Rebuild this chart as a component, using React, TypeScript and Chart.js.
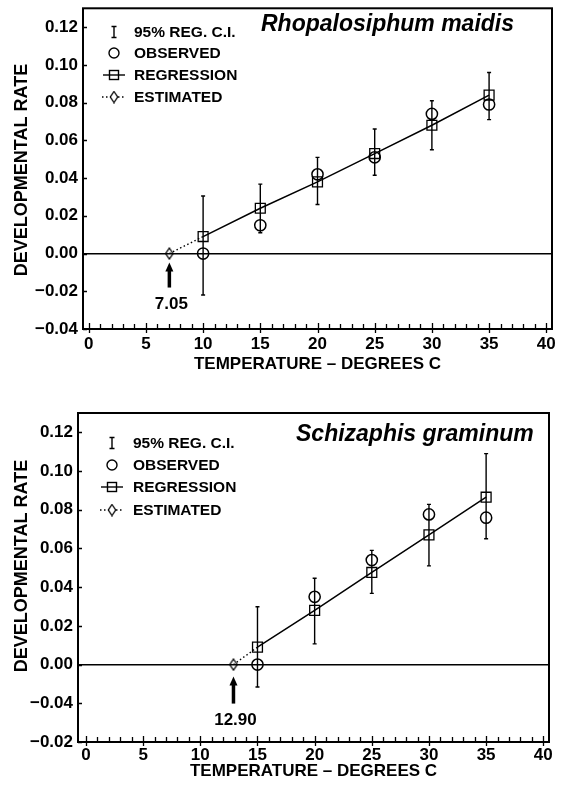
import React, { useEffect, useRef } from 'react';
import { Chart, registerables } from 'chart.js';

Chart.register(...registerables);

// ---------- data ----------
const TEMPS_A = [10, 15, 20, 25, 30, 35];
const OBS_A = [0.0, 0.015, 0.042, 0.051, 0.074, 0.079];
const REG_A = [0.009, 0.024, 0.038, 0.053, 0.068, 0.084];
const CI_LO_A = [-0.022, 0.011, 0.026, 0.0415, 0.055, 0.071];
const CI_HI_A = [0.0305, 0.0368, 0.051, 0.066, 0.081, 0.096];
const THRESH_A = 7.05;
const THRESH_LABEL_A = '7.05';
const SPECIES_A = 'Rhopalosiphum maidis';

const TEMPS_B = [15, 20, 25, 30, 35];
const OBS_B = [0.0, 0.035, 0.054, 0.0776, 0.0759];
const REG_B = [0.009, 0.028, 0.0476, 0.067, 0.0865];
const CI_LO_B = [-0.0116, 0.0107, 0.0368, 0.051, 0.065];
const CI_HI_B = [0.0299, 0.0446, 0.059, 0.0828, 0.109];
const THRESH_B = 12.9;
const THRESH_LABEL_B = '12.90';
const SPECIES_B = 'Schizaphis graminum';

const X_TICKS = [0, 5, 10, 15, 20, 25, 30, 35, 40];
const Y_TICKS = [-0.04, -0.02, 0, 0.02, 0.04, 0.06, 0.08, 0.1, 0.12];
const Y_LABELS_A = ['\u22120.04', '\u22120.02', '0.00', '0.02', '0.04', '0.06', '0.08', '0.10', '0.12'];
const Y_LABELS_B = ['\u22120.02', '\u22120.04', '0.00', '0.02', '0.04', '0.06', '0.08', '0.10', '0.12'];
const LEGEND_LABELS = ['95% REG. C.I.', 'OBSERVED', 'REGRESSION', 'ESTIMATED'];
const X_TITLE = 'TEMPERATURE \u2013 DEGREES C';
const Y_TITLE = 'DEVELOPMENTAL RATE';

const FONT = '"Liberation Sans", Arial, sans-serif';

function makeDiamond(fill: string) {
  const c = document.createElement('canvas');
  c.width = 10;
  c.height = 13;
  const g = c.getContext('2d')!;
  g.beginPath();
  g.moveTo(5, 1);
  g.lineTo(8.7, 6.5);
  g.lineTo(5, 12);
  g.lineTo(1.3, 6.5);
  g.closePath();
  if (fill) {
    g.fillStyle = fill;
    g.fill();
  }
  g.strokeStyle = '#000';
  g.lineWidth = 1.3;
  g.stroke();
  return c;
}

function makePlugin(cfg: any) {
  return {
    id: 'decor',
    beforeDatasetsDraw(chart: any) {
      const { ctx, scales } = chart;
      const x = scales.x;
      const y = scales.y;
      ctx.save();
      ctx.strokeStyle = '#000';
      ctx.lineWidth = 1.4;
      cfg.temps.forEach((t: number, i: number) => {
        const px = x.getPixelForValue(t);
        const y1 = y.getPixelForValue(cfg.ciLo[i]);
        const y2 = y.getPixelForValue(cfg.ciHi[i]);
        ctx.beginPath();
        ctx.moveTo(px, y1);
        ctx.lineTo(px, y2);
        ctx.moveTo(px - 2, y1);
        ctx.lineTo(px + 2, y1);
        ctx.moveTo(px - 2, y2);
        ctx.lineTo(px + 2, y2);
        ctx.stroke();
      });
      ctx.restore();
    },
    afterDraw(chart: any) {
      const { ctx, chartArea: a, scales } = chart;
      const x = scales.x;
      const y = scales.y;
      ctx.save();
      ctx.strokeStyle = '#000';
      ctx.fillStyle = '#000';
      // frame
      ctx.lineWidth = 2;
      ctx.strokeRect(a.left, a.top, a.right - a.left, a.bottom - a.top);
      // x ticks (minor inside, major crossing)
      ctx.lineWidth = 1.3;
      ctx.beginPath();
      for (let v = X_TICKS[0]; v <= X_TICKS[X_TICKS.length - 1]; v++) {
        const px = Math.round(x.getPixelForValue(v)) + 0.5;
        if (v % 5 === 0) {
          ctx.moveTo(px, a.bottom - 6);
          ctx.lineTo(px, a.bottom + 4);
        } else {
          ctx.moveTo(px, a.bottom - 5);
          ctx.lineTo(px, a.bottom);
        }
      }
      // y ticks inward
      Y_TICKS.forEach((v) => {
        const py = Math.round(y.getPixelForValue(v)) + 0.5;
        ctx.moveTo(a.left, py);
        ctx.lineTo(a.left + 4, py);
      });
      ctx.stroke();

      // species title
      ctx.font = 'bold italic 23px ' + FONT;
      ctx.textAlign = 'left';
      ctx.textBaseline = 'middle';
      ctx.fillText(cfg.species, cfg.speciesPos.x, cfg.speciesPos.y);

      // y title
      ctx.save();
      ctx.translate(cfg.yTitle.x, cfg.yTitle.y);
      ctx.rotate(-Math.PI / 2);
      ctx.font = 'bold 18px ' + FONT;
      ctx.textAlign = 'center';
      ctx.textBaseline = 'middle';
      ctx.fillText(Y_TITLE, 0, 0);
      ctx.restore();

      // legend
      const L = cfg.legend;
      const sx = L.sx;
      ctx.lineWidth = 1.4;
      let ry = L.rows[0];
      ctx.beginPath();
      ctx.moveTo(sx, ry - 5.5);
      ctx.lineTo(sx, ry + 5.5);
      ctx.moveTo(sx - 2.5, ry - 5.5);
      ctx.lineTo(sx + 2.5, ry - 5.5);
      ctx.moveTo(sx - 2.5, ry + 5.5);
      ctx.lineTo(sx + 2.5, ry + 5.5);
      ctx.stroke();
      ry = L.rows[1];
      ctx.beginPath();
      ctx.arc(sx, ry, 5, 0, Math.PI * 2);
      ctx.stroke();
      ry = L.rows[2];
      ctx.beginPath();
      ctx.moveTo(sx - 11, ry);
      ctx.lineTo(sx + 11, ry);
      ctx.stroke();
      ctx.strokeRect(sx - 4.5, ry - 4.5, 9, 9);
      ry = L.rows[3];
      ctx.save();
      ctx.setLineDash([1.5, 2.5]);
      ctx.beginPath();
      ctx.moveTo(sx - 12, ry);
      ctx.lineTo(sx + 12, ry);
      ctx.stroke();
      ctx.restore();
      ctx.drawImage(cfg.diamondWhite, sx - 5, ry - 6.5);
      ctx.font = 'bold 15.5px ' + FONT;
      ctx.textAlign = 'left';
      ctx.textBaseline = 'middle';
      LEGEND_LABELS.forEach((t, i) => ctx.fillText(t, L.tx, L.rows[i] + 1));

      // arrow + threshold label
      const ax = x.getPixelForValue(cfg.thresh);
      const y0 = y.getPixelForValue(0);
      const A = cfg.arrow;
      ctx.lineWidth = 3.5;
      ctx.beginPath();
      ctx.moveTo(ax, y0 + A.tip + 7);
      ctx.lineTo(ax, y0 + A.end);
      ctx.stroke();
      ctx.beginPath();
      ctx.moveTo(ax, y0 + A.tip);
      ctx.lineTo(ax + 4, y0 + A.tip + 9);
      ctx.lineTo(ax - 4, y0 + A.tip + 9);
      ctx.closePath();
      ctx.fill();
      ctx.font = 'bold 17px ' + FONT;
      ctx.textAlign = 'center';
      ctx.fillText(cfg.threshLabel, ax + 2, y0 + A.label);
      ctx.restore();
    },
  };
}

function Panel({ cfg }: { cfg: any }) {
  const ref = useRef<HTMLCanvasElement>(null);
  useEffect(() => {
    const a = cfg.area;
    const H = cfg.height;
    const diamond = makeDiamond('');
    cfg.diamondWhite = makeDiamond('#fff');
    const tickFont = { family: FONT, size: 17, weight: 'bold' as const };
    const chart = new Chart(ref.current as HTMLCanvasElement, {
      type: 'scatter',
      data: {
        datasets: [
          {
            label: 'ESTIMATED',
            data: [
              { x: cfg.thresh, y: 0 },
              { x: cfg.temps[0], y: cfg.reg[0] },
            ],
            showLine: true,
            borderColor: '#000',
            borderWidth: 1.4,
            borderDash: [1.5, 2.5],
            pointStyle: [diamond, false] as any,
            pointRadius: [5, 0],
            backgroundColor: 'rgba(0,0,0,0)',
          },
          {
            label: 'REGRESSION',
            data: cfg.temps.map((t: number, i: number) => ({ x: t, y: cfg.reg[i] })),
            showLine: true,
            borderColor: '#000',
            borderWidth: 1.5,
            pointStyle: 'rect',
            pointRadius: 7,
            pointBorderWidth: 1.3,
            pointBorderColor: '#000',
            pointBackgroundColor: 'rgba(0,0,0,0)',
          },
          {
            label: 'OBSERVED',
            data: cfg.temps.map((t: number, i: number) => ({ x: t, y: cfg.obs[i] })),
            showLine: false,
            pointStyle: 'circle',
            pointRadius: 5.6,
            pointBorderWidth: 1.5,
            pointBorderColor: '#000',
            pointBackgroundColor: 'rgba(0,0,0,0)',
          },
        ],
      },
      options: {
        responsive: false,
        animation: false,
        devicePixelRatio: 1,
        events: [],
        layout: { padding: { left: 0, top: a.top, right: 568 - a.right, bottom: 0 } },
        plugins: { legend: { display: false }, tooltip: { enabled: false }, title: { display: false } },
        scales: {
          x: {
            type: 'linear',
            min: cfg.xMin,
            max: cfg.xMax,
            afterBuildTicks: (s: any) => {
              s.ticks = X_TICKS.map((v) => ({ value: v }));
            },
            afterFit: (s: any) => {
              s.height = H - a.bottom;
              s.paddingLeft = 0;
              s.paddingRight = 0;
            },
            grid: { display: false, drawTicks: false },
            border: { display: false },
            ticks: {
              padding: cfg.xTickPad,
              color: '#000',
              font: tickFont,
              maxRotation: 0,
              autoSkip: false,
              callback: (v: any) => String(v),
            },
            title: {
              display: true,
              text: X_TITLE,
              color: '#000',
              font: { family: FONT, size: 17, weight: 'bold' },
              padding: { top: 0, bottom: cfg.xTitlePad },
            },
          },
          y: {
            type: 'linear',
            min: -0.04,
            max: 0.13,
            afterBuildTicks: (s: any) => {
              s.ticks = Y_TICKS.map((v) => ({ value: v }));
            },
            afterFit: (s: any) => {
              s.width = a.left;
              s.paddingTop = 0;
              s.paddingBottom = 0;
            },
            grid: {
              drawTicks: false,
              lineWidth: 1.5,
              color: (c: any) => (c.tick && c.tick.value === 0 ? '#000' : 'rgba(0,0,0,0)'),
            },
            border: { display: false },
            ticks: {
              padding: 5,
              color: '#000',
              font: tickFont,
              autoSkip: false,
              callback: (_v: any, i: number) => cfg.yLabels[i],
            },
          },
        },
      },
      plugins: [makePlugin(cfg)],
    } as any);
    return () => chart.destroy();
  }, []);
  return (
    <canvas
      ref={ref}
      width={568}
      height={cfg.height}
      style={{ position: 'absolute', left: 0, top: cfg.top, width: 568, height: cfg.height }}
    />
  );
}

const CFG_A = {
  top: 0,
  height: 390,
  area: { left: 83, right: 552, top: 3, bottom: 329 },
  xMin: -0.5,
  xMax: 40.5,
  temps: TEMPS_A,
  obs: OBS_A,
  reg: REG_A,
  ciLo: CI_LO_A,
  ciHi: CI_HI_A,
  thresh: THRESH_A,
  threshLabel: THRESH_LABEL_A,
  species: SPECIES_A,
  yLabels: Y_LABELS_A,
  xTickPad: 5,
  xTitlePad: 15,
  yTitle: { x: 21.6, y: 170 },
  speciesPos: { x: 261, y: 25 },
  legend: { sx: 114, tx: 134, rows: [32, 53, 75, 97] },
  arrow: { tip: 9, end: 34, label: 51 },
};

const CFG_B = {
  top: 390,
  height: 398,
  area: { left: 78, right: 549, top: 23, bottom: 352 },
  xMin: -0.7,
  xMax: 40.5,
  temps: TEMPS_B,
  obs: OBS_B,
  reg: REG_B,
  ciLo: CI_LO_B,
  ciHi: CI_HI_B,
  thresh: THRESH_B,
  threshLabel: THRESH_LABEL_B,
  species: SPECIES_B,
  yLabels: Y_LABELS_B,
  xTickPad: 3,
  xTitlePad: 6,
  yTitle: { x: 21.6, y: 176 },
  speciesPos: { x: 296, y: 45 },
  legend: { sx: 112, tx: 133, rows: [53, 75, 97, 120] },
  arrow: { tip: 12, end: 39, label: 56 },
};

export default function App() {
  return (
    <div style={{ position: 'absolute', left: 0, top: 0, width: 568, height: 788, background: '#fff' }}>
      <Panel cfg={CFG_A} />
      <Panel cfg={CFG_B} />
    </div>
  );
}
